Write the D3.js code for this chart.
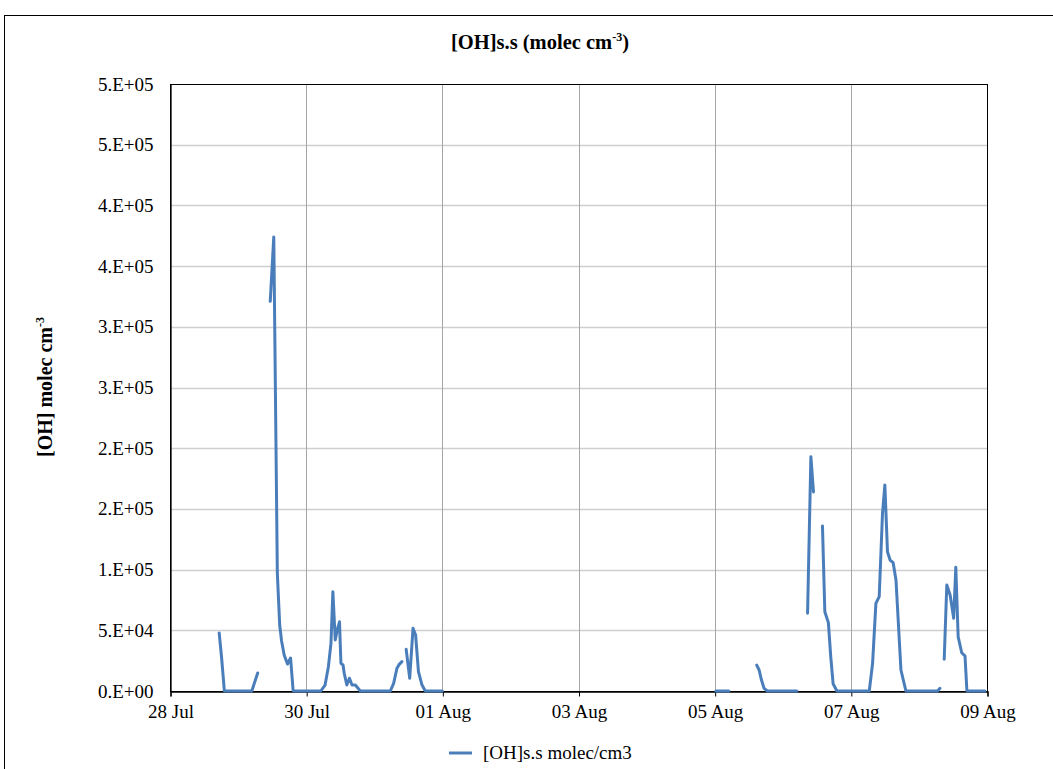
<!DOCTYPE html>
<html>
<head>
<meta charset="utf-8">
<script src="https://cdn.jsdelivr.net/npm/d3@7"></script>
<style>
  html, body { margin: 0; padding: 0; background: #ffffff; }
  svg { display: block; font-family: "Liberation Serif", "Times New Roman", serif; }
</style>
</head>
<body>
<svg id="chart" width="1053" height="769"></svg>
<script>
// Steady-state OH concentration (molec cm-3); null marks a gap in the record
const obsTimes = [
  "2015-07-28 17:20", "2015-07-28 18:10", "2015-07-28 19:10", "2015-07-29 04:50", "2015-07-29 06:55",
  null,
  "2015-07-29 11:20", "2015-07-29 12:35", "2015-07-29 13:50", "2015-07-29 14:40", "2015-07-29 15:20",
  "2015-07-29 16:15", "2015-07-29 17:25", "2015-07-29 18:30", "2015-07-29 19:25",
  "2015-07-30 05:10", "2015-07-30 06:40", "2015-07-30 07:50", "2015-07-30 08:45", "2015-07-30 09:25",
  "2015-07-30 10:15", "2015-07-30 11:05", "2015-07-30 11:45", "2015-07-30 12:15", "2015-07-30 13:00",
  "2015-07-30 13:25", "2015-07-30 14:20", "2015-07-30 15:15", "2015-07-30 16:10", "2015-07-30 17:20",
  "2015-07-30 19:05",
  "2015-07-31 05:40", "2015-07-31 06:50", "2015-07-31 08:00", "2015-07-31 08:40", "2015-07-31 09:45",
  null,
  "2015-07-31 11:15", "2015-07-31 12:30", "2015-07-31 13:40", "2015-07-31 14:35", "2015-07-31 15:35",
  "2015-07-31 16:50", "2015-07-31 18:00", "2015-08-01 00:00",
  null,
  "2015-08-05 00:25", "2015-08-05 05:00",
  null,
  "2015-08-05 14:50", "2015-08-05 15:40", "2015-08-05 16:30", "2015-08-05 17:25", "2015-08-05 18:35",
  "2015-08-06 05:00",
  null,
  "2015-08-06 08:45", "2015-08-06 09:55", "2015-08-06 10:50",
  null,
  "2015-08-06 14:00", "2015-08-06 14:50", "2015-08-06 16:05", "2015-08-06 16:55", "2015-08-06 17:45",
  "2015-08-06 19:05",
  "2015-08-07 06:30", "2015-08-07 07:40", "2015-08-07 08:50", "2015-08-07 10:00", "2015-08-07 11:10",
  "2015-08-07 12:00", "2015-08-07 12:55", "2015-08-07 13:50", "2015-08-07 14:55", "2015-08-07 15:55",
  "2015-08-07 17:40", "2015-08-07 19:25",
  "2015-08-08 06:35", "2015-08-08 07:25",
  null,
  "2015-08-08 08:55", "2015-08-08 09:50", "2015-08-08 11:00", "2015-08-08 12:15", "2015-08-08 13:00",
  "2015-08-08 13:50", "2015-08-08 15:05", "2015-08-08 16:15", "2015-08-08 16:55", "2015-08-08 23:15"
];

const ohValues = [
  47800, 28000, 0, 0, 14800,
  null,
  321000, 374000, 97200, 54400, 41200,
  29700, 22200, 27200, 0,
  0, 4900, 20000, 39500, 81800,
  42000, 51600, 57000, 22800, 21400,
  14600, 4900, 10500, 4900, 4900,
  0,
  0, 6300, 18700, 21500, 24200,
  null,
  34300, 10500, 51600, 46100, 15900,
  4900, 0, 0,
  null,
  0, 0,
  null,
  21400, 17300, 9000, 2200, 0,
  0,
  null,
  64000, 193000, 164000,
  null,
  136000, 65300, 56300, 28300, 6000,
  0,
  0, 22800, 72200, 77700, 146400,
  169700, 114700, 107900, 105700, 91400,
  17300, 0,
  0, 2200,
  null,
  26100, 87300, 79100, 59900, 101900,
  44700, 31500, 28800, 0, 0
];

// Axis ticks and their printed labels (Excel "0.E+00" style)
const yTickValues = [0, 50000, 100000, 150000, 200000, 250000, 300000, 350000, 400000, 450000, 500000];
const yTickLabels = ["0.E+00", "5.E+04", "1.E+05", "2.E+05", "2.E+05", "3.E+05", "3.E+05", "4.E+05", "4.E+05", "5.E+05", "5.E+05"];
const xTickDates = ["2015-07-28", "2015-07-30", "2015-08-01", "2015-08-03", "2015-08-05", "2015-08-07", "2015-08-09"];
const xTickLabels = ["28 Jul", "30 Jul", "01 Aug", "03 Aug", "05 Aug", "07 Aug", "09 Aug"];

const seriesName = "[OH]s.s molec/cm3";
const lineColor = "#4a7ebb";

const parseTime = d3.timeParse("%Y-%m-%d %H:%M");
const parseDay = d3.timeParse("%Y-%m-%d");

const data = obsTimes.map((t, i) => ({
  t: t === null ? null : parseTime(t),
  v: ohValues[i]
}));

const svg = d3.select("#chart");
const plot = { left: 170, right: 987, top: 84, bottom: 691 };

const x = d3.scaleTime()
  .domain([parseDay(xTickDates[0]), parseDay(xTickDates[xTickDates.length - 1])])
  .range([plot.left, plot.right]);
const y = d3.scaleLinear()
  .domain([0, 500000])
  .range([plot.bottom, plot.top]);

// Outer chart frame
svg.append("rect")
  .attr("x", 4.5).attr("y", 15.5)
  .attr("width", 1100).attr("height", 800)
  .attr("fill", "#ffffff")
  .attr("stroke", "#000000").attr("stroke-width", 1);

// Horizontal gridlines
svg.append("g")
  .selectAll("line")
  .data(yTickValues.slice(1, -1))
  .join("line")
  .attr("x1", plot.left).attr("x2", plot.right)
  .attr("y1", d => Math.round(y(d)) + 0.5).attr("y2", d => Math.round(y(d)) + 0.5)
  .attr("stroke", "#cfcfcf").attr("stroke-width", 1.5);

// Vertical gridlines
const xTicks = xTickDates.map(parseDay);
svg.append("g")
  .selectAll("line")
  .data(xTicks.slice(1, -1))
  .join("line")
  .attr("x1", d => Math.round(x(d)) + 0.5).attr("x2", d => Math.round(x(d)) + 0.5)
  .attr("y1", plot.top).attr("y2", plot.bottom)
  .attr("stroke", "#a6a6a6").attr("stroke-width", 1);

// Plot area frame
svg.append("rect")
  .attr("x", plot.left + 0.5).attr("y", plot.top + 0.5)
  .attr("width", plot.right - plot.left).attr("height", plot.bottom - plot.top)
  .attr("fill", "none")
  .attr("stroke", "#000000").attr("stroke-width", 1);

// X axis
const xAxis = d3.axisBottom(x)
  .tickValues(xTicks)
  .tickFormat((d, i) => xTickLabels[i])
  .tickSize(5)
  .tickPadding(8);
const gx = svg.append("g")
  .attr("transform", `translate(0.5,${plot.bottom + 0.5})`)
  .call(xAxis);
gx.select(".domain").attr("stroke", "#000000").attr("stroke-width", 1.3);
gx.selectAll(".tick line").attr("stroke", "#000000");
gx.selectAll(".tick text")
  .attr("font-family", "Liberation Serif, Times New Roman, serif")
  .attr("font-size", 19).attr("fill", "#000000");

// Y axis
const yAxis = d3.axisLeft(y)
  .tickValues(yTickValues)
  .tickFormat((d, i) => yTickLabels[i])
  .tickSize(0)
  .tickPadding(17);
const gy = svg.append("g")
  .attr("transform", `translate(${plot.left + 0.5},0)`)
  .call(yAxis);
gy.select(".domain").attr("stroke", "#000000").attr("stroke-width", 1.3);
gy.selectAll(".tick text")
  .attr("font-family", "Liberation Serif, Times New Roman, serif")
  .attr("font-size", 19).attr("fill", "#000000");

// OH series
const line = d3.line()
  .defined(d => d.t !== null && d.v !== null)
  .x(d => x(d.t))
  .y(d => y(d.v));
svg.append("path")
  .datum(data)
  .attr("d", line)
  .attr("fill", "none")
  .attr("stroke", lineColor)
  .attr("stroke-width", 3)
  .attr("stroke-linejoin", "round")
  .attr("stroke-linecap", "round");

// Title
const title = svg.append("text")
  .attr("x", 540).attr("y", 49)
  .attr("text-anchor", "middle")
  .attr("font-weight", "bold")
  .attr("font-size", 20.5);
title.append("tspan").text("[OH]s.s (molec cm");
title.append("tspan").attr("font-size", 12).attr("dy", -8).text("-3");
title.append("tspan").attr("dy", 8).text(")");

// Y axis title
const yTitle = svg.append("text")
  .attr("transform", "translate(52,387) rotate(-90)")
  .attr("text-anchor", "middle")
  .attr("font-weight", "bold")
  .attr("font-size", 20);
yTitle.append("tspan").text("[OH] molec cm");
yTitle.append("tspan").attr("font-size", 12).attr("dy", -8).text("-3");

// Legend
const legend = svg.append("g");
legend.append("line")
  .attr("x1", 449).attr("x2", 472)
  .attr("y1", 753).attr("y2", 753)
  .attr("stroke", lineColor).attr("stroke-width", 3);
legend.append("text")
  .attr("x", 483).attr("y", 759)
  .attr("font-size", 19)
  .text(seriesName);
</script>
</body>
</html>
